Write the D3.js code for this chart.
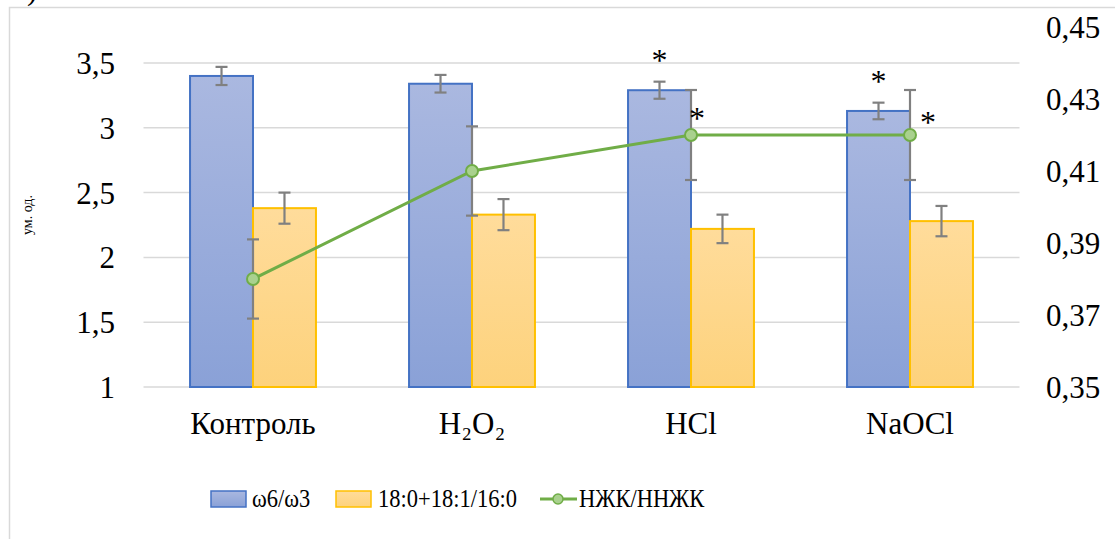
<!DOCTYPE html>
<html><head><meta charset="utf-8">
<script src="https://cdn.jsdelivr.net/npm/d3@7"></script>
<style>body{margin:0;background:#fff}svg{display:block}svg text{font-family:"Liberation Serif","Tinos","Times New Roman","DejaVu Serif","Noto Serif",serif !important;fill:#000}</style>
</head><body><svg id="c" width="1115" height="539"></svg>
<script>
const categories = ["Контроль", "H₂O₂", "HCl", "NaOCl"];
const omega = [3.40, 3.34, 3.29, 3.13];
const omegaErr = [0.07, 0.068, 0.066, 0.064];
const sat = [2.38, 2.33, 2.22, 2.28];
const satErr = [0.12, 0.12, 0.11, 0.117];
const ratio = [0.38, 0.41, 0.42, 0.42];
const ratioErr = [0.011, 0.0124, 0.0125, 0.0125];
const omegaStar = [false, false, true, true];
const ratioStar = [false, false, true, true];
const leftTicks = [1, 1.5, 2, 2.5, 3, 3.5];
const rightTicks = [0.35, 0.37, 0.39, 0.41, 0.43, 0.45];
const seriesNames = ["ω6/ω3", "18:0+18:1/16:0", "НЖК/ННЖК"];

// label placement offsets (style only)
const ratioStarDx = [0, 0, 6, 18];
const ratioStarDy = [0, 0, -6.5, -2.5];

const FONT = '"Liberation Serif", "Tinos", "Times New Roman", "DejaVu Serif", serif';
const FS = 31;
const svg = d3.select("#c");
const fmt = v => String(v).replace(".", ",");
const defs = svg.append("defs");
function grad(id, c1, c2){
  const g = defs.append("linearGradient").attr("id", id).attr("x1",0).attr("y1",0).attr("x2",0).attr("y2",1);
  g.append("stop").attr("offset","0%").attr("stop-color",c1);
  g.append("stop").attr("offset","100%").attr("stop-color",c2);
}
grad("gb", "#aab8e0", "#8aa1d7");
grad("gy", "#ffdc9b", "#fdd27c");

// frame
svg.append("rect").attr("x",9.5).attr("y",7.5).attr("width",1200).attr("height",600)
  .attr("fill","none").attr("stroke","#d9d9d9").attr("stroke-width",1.5);
svg.append("text").attr("x",27).attr("y",0).attr("font-size",30).style("font-family",FONT).text(")");

const x = d3.scaleBand().domain(categories).range([143.5, 1019.5]).paddingInner(0.425).paddingOuter(0.2125);
const x1 = d3.scaleBand().domain([0,1]).range([0, x.bandwidth()]);
const yL = d3.scaleLinear().domain([1, 3.5]).range([387, 63]);
const yR = d3.scaleLinear().domain([0.35, 0.45]).range([387, 27]);

// gridlines
svg.append("g").selectAll("line").data(leftTicks).join("line")
  .attr("x1",143.5).attr("x2",1019.5).attr("y1",d=>yL(d)).attr("y2",d=>yL(d))
  .attr("stroke","#d9d9d9").attr("stroke-width",1.5);

// axes
const axL = svg.append("g").attr("transform","translate(115,0)")
  .call(d3.axisLeft(yL).tickValues(leftTicks).tickFormat(fmt).tickSize(0).tickPadding(0));
axL.attr("font-family", FONT);
axL.select(".domain").remove();
axL.selectAll("text").attr("font-size",FS).style("font-family",FONT).attr("fill","#000").attr("dy","0.34em");

const axR = svg.append("g").attr("transform","translate(1046,0)")
  .call(d3.axisRight(yR).tickValues(rightTicks).tickFormat(fmt).tickSize(0).tickPadding(0));
axR.attr("font-family", FONT);
axR.select(".domain").remove();
axR.selectAll("text").attr("font-size",FS).style("font-family",FONT).attr("fill","#000").attr("dy","0.34em");

const axB = svg.append("g").attr("transform","translate(0,387)")
  .call(d3.axisBottom(x).tickSize(0).tickPadding(0));
axB.attr("font-family", FONT);
axB.select(".domain").remove();
axB.selectAll("text").attr("font-size",FS).style("font-family",FONT).attr("fill","#000").attr("dy",0).attr("y",47);

svg.append("text").attr("transform","translate(32,215) rotate(-90)").attr("text-anchor","middle")
  .attr("font-size",14).style("font-family",FONT).text("ум. од.");

// bars
const series = [
  {vals: omega, err: omegaErr, fill: "url(#gb)", stroke: "#4472c4"},
  {vals: sat, err: satErr, fill: "url(#gy)", stroke: "#ffc000"}
];
series.forEach((s, si) => {
  const g = svg.append("g");
  g.selectAll("rect").data(categories).join("rect")
    .attr("x", c => x(c) + x1(si)).attr("width", x1.bandwidth())
    .attr("y", (c,i) => yL(s.vals[i])).attr("height", (c,i) => yL(1) - yL(s.vals[i]))
    .attr("fill", s.fill).attr("stroke", s.stroke).attr("stroke-width", 2);
});
function errBar(cx, t, b){
  const g = svg.append("g").attr("stroke","#808080").attr("stroke-width",2.2);
  g.append("line").attr("x1",cx).attr("x2",cx).attr("y1",t).attr("y2",b);
  g.append("line").attr("x1",cx-6).attr("x2",cx+6).attr("y1",t).attr("y2",t);
  g.append("line").attr("x1",cx-6).attr("x2",cx+6).attr("y1",b).attr("y2",b);
}
series.forEach((s, si) => {
  categories.forEach((c, i) => {
    const cx = x(c) + x1(si) + x1.bandwidth()/2;
    errBar(cx, yL(s.vals[i] + s.err[i]), yL(s.vals[i] - s.err[i]));
  });
});
categories.forEach((c, i) => {
  const cx = x(c) + x.bandwidth()/2;
  errBar(cx, yR(ratio[i] + ratioErr[i]), yR(ratio[i] - ratioErr[i]));
});

// line
const line = d3.line().x((d,i) => x(categories[i]) + x.bandwidth()/2).y(d => yR(d));
svg.append("path").datum(ratio).attr("d", line).attr("fill","none").attr("stroke","#70ad47").attr("stroke-width",3);
svg.append("g").selectAll("circle").data(ratio).join("circle")
  .attr("cx",(d,i) => x(categories[i]) + x.bandwidth()/2).attr("cy", d => yR(d)).attr("r",6)
  .attr("fill","#a9d18e").attr("stroke","#70ad47").attr("stroke-width",2);

// asterisks
categories.forEach((c, i) => {
  if (omegaStar[i]) {
    const cx = x(c) + x1(0) + x1.bandwidth()/2;
    svg.append("text").attr("x",cx).attr("y", yL(omega[i] + omegaErr[i]) - 11)
      .attr("text-anchor","middle").attr("font-size",32).style("font-family",FONT).text("*");
  }
  if (ratioStar[i]) {
    const cx = x(c) + x.bandwidth()/2;
    svg.append("text").attr("x",cx + ratioStarDx[i]).attr("y", yR(ratio[i]) + ratioStarDy[i])
      .attr("text-anchor","middle").attr("font-size",32).style("font-family",FONT).text("*");
  }
});

// legend
const lg = svg.append("g");
function legText(xp, t){
  lg.append("text").attr("transform",`translate(${xp},507) scale(1,1.15)`).attr("font-size",22.5)
    .style("font-family",FONT).text(t);
}
lg.append("rect").attr("x",211).attr("y",491).attr("width",35).attr("height",16).attr("fill","url(#gb)").attr("stroke","#4472c4").attr("stroke-width",1.5);
legText(252, seriesNames[0]);
lg.append("rect").attr("x",336).attr("y",491).attr("width",35).attr("height",16).attr("fill","url(#gy)").attr("stroke","#ffc000").attr("stroke-width",1.5);
legText(378, seriesNames[1]);
lg.append("line").attr("x1",540).attr("x2",577).attr("y1",499).attr("y2",499).attr("stroke","#70ad47").attr("stroke-width",3);
lg.append("circle").attr("cx",558).attr("cy",499).attr("r",5).attr("fill","#a9d18e").attr("stroke","#70ad47").attr("stroke-width",1.5);
legText(579, seriesNames[2]);
</script></body></html>
